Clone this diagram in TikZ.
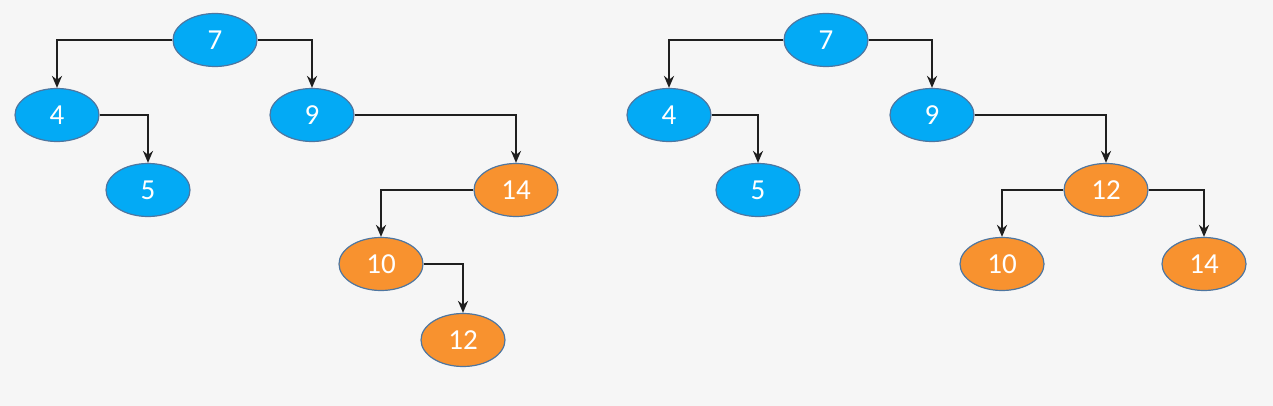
\documentclass[tikz,border=0pt]{standalone}
\usepackage{fontspec}
\setmainfont{Carlito}
\usepackage{xcolor}
\usetikzlibrary{arrows.meta,shapes.geometric}

\definecolor{bgray}{HTML}{F6F6F6}
\definecolor{tblue}{HTML}{03AAF5}
\definecolor{torange}{HTML}{F8922F}
\definecolor{tedge}{HTML}{4E76A0}

\begin{document}
\begin{tikzpicture}[
  x=0.5pt, y=-0.5pt,
  >={Stealth[length=6pt,width=5pt]},
  tnode/.style={ellipse, draw=tedge, line width=0.6pt, minimum width=42pt, minimum height=26.5pt, inner sep=0pt, text=white, font=\fontsize{14.5}{16}\selectfont},
  bnode/.style={tnode, fill=tblue},
  onode/.style={tnode, fill=torange},
  line/.style={->, line width=1.1pt, draw=black!88}
]
% Background / frame
\fill[bgray] (0,0) rectangle (1273,406);
\useasboundingbox (0,0) rectangle (1273,406);

% Left tree (before rotation)
\node[bnode] (l7)  at (215,40)  {7};
\node[bnode] (l4)  at (57,115)  {4};
\node[bnode] (l9)  at (312,115) {9};
\node[bnode] (l5)  at (148,190) {5};
\node[onode] (l14) at (516,190) {14};
\node[onode] (l10) at (381,264) {10};
\node[onode] (l12) at (463,340) {12};

% Right tree (after rotation)
\node[bnode] (r7)  at (826,40)   {7};
\node[bnode] (r4)  at (669,115)  {4};
\node[bnode] (r9)  at (932,115)  {9};
\node[bnode] (r5)  at (758,190)  {5};
\node[onode] (r12) at (1106,190) {12};
\node[onode] (r10) at (1002,264) {10};
\node[onode] (r14) at (1204,264) {14};

% Arrows
\draw[line] (l7.west) -| (l4.north);
\draw[line] (l7.east) -| (l9.north);
\draw[line] (l4.east) -| (l5.north);
\draw[line] (l9.east) -| (l14.north);
\draw[line] (l14.west) -| (l10.north);
\draw[line] (l10.east) -| (l12.north);

\draw[line] (r7.west) -| (r4.north);
\draw[line] (r7.east) -| (r9.north);
\draw[line] (r4.east) -| (r5.north);
\draw[line] (r9.east) -| (r12.north);
\draw[line] (r12.west) -| (r10.north);
\draw[line] (r12.east) -| (r14.north);
\end{tikzpicture}
\end{document}
